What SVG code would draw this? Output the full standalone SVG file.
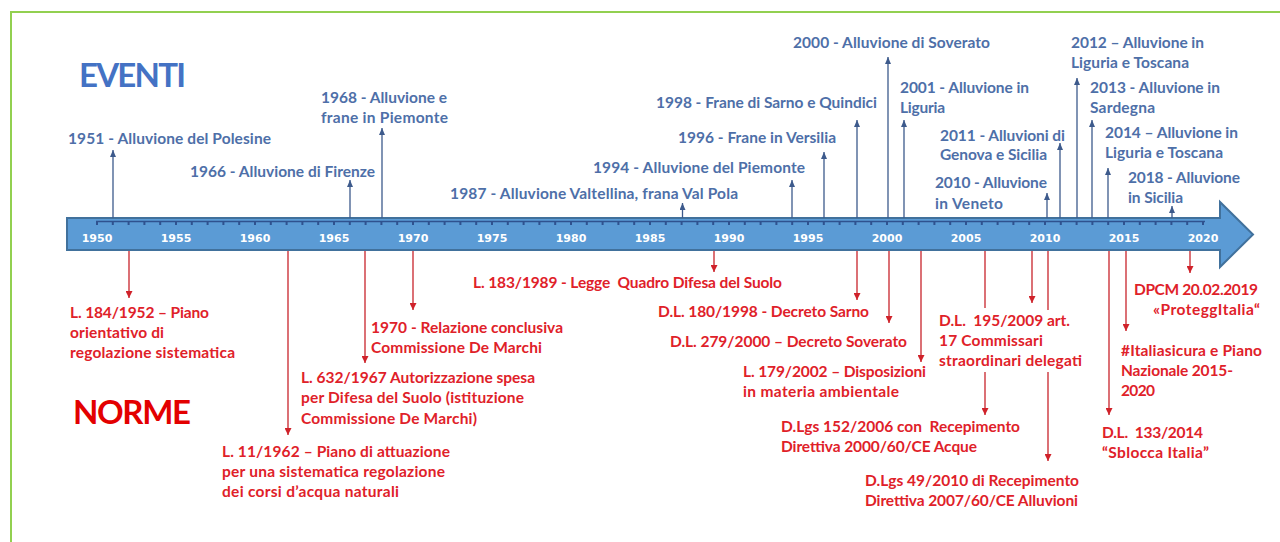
<svg xmlns="http://www.w3.org/2000/svg" width="1280" height="542" viewBox="0 0 1280 542">
<style>
text{font-family:Lato,"Liberation Sans",Arial,sans-serif;font-weight:700}
.ev{fill:#4e6fa8;font-size:15.5px}
.nr{fill:#df2129;font-size:15.5px}
.yr{fill:#ffffff;font-family:"DejaVu Sans",Verdana,sans-serif;font-size:11px;text-anchor:middle}
.title{font-size:33px}
.evl{stroke:#3d5a8c;stroke-width:1.3;fill:none;marker-end:url(#ah-b)}
.nrl{stroke:#c8242c;stroke-width:1.3;fill:none}
.nrl.end{marker-end:url(#ah-r)}
</style>
<defs>
<marker id="ah-b" markerUnits="userSpaceOnUse" viewBox="0 0 7 6" markerWidth="7" markerHeight="6" refX="7" refY="3" orient="auto"><path d="M0,0 L7,3 L0,6 z" fill="#3d5a8c"/></marker>
<marker id="ah-r" markerUnits="userSpaceOnUse" viewBox="0 0 7 7" markerWidth="7" markerHeight="7" refX="7" refY="3.5" orient="auto"><path d="M0,0 L7,3.5 L0,7 z" fill="#d0222a"/></marker>
</defs>
<rect x="0" y="0" width="1280" height="542" fill="#ffffff"/>
<rect x="11" y="12" width="1300" height="600" fill="none" stroke="#92d050" stroke-width="2"/>

<g id="timeline">
<path d="M67,218 H1220 V202 L1253,234.5 L1220,267 V250 H67 Z" fill="#5b9bd5" stroke="#41719c" stroke-width="2" stroke-linejoin="miter"/>
<line x1="96" y1="221.5" x2="1205" y2="221.5" stroke="#2f528f" stroke-width="1.5"/>
<line x1="96" y1="223.5" x2="1205" y2="223.5" stroke="#2f528f" stroke-width="3" stroke-dasharray="2 13.8"/>
<text class="yr" x="97" y="242">1950</text>
<text class="yr" x="176" y="242">1955</text>
<text class="yr" x="255" y="242">1960</text>
<text class="yr" x="334" y="242">1965</text>
<text class="yr" x="413" y="242">1970</text>
<text class="yr" x="492" y="242">1975</text>
<text class="yr" x="571" y="242">1980</text>
<text class="yr" x="650" y="242">1985</text>
<text class="yr" x="729" y="242">1990</text>
<text class="yr" x="808" y="242">1995</text>
<text class="yr" x="887" y="242">2000</text>
<text class="yr" x="966" y="242">2005</text>
<text class="yr" x="1045" y="242">2010</text>
<text class="yr" x="1124" y="242">2015</text>
<text class="yr" x="1203" y="242">2020</text>
</g>

<g id="title-eventi"><text class="title" x="79" y="87" fill="#4472c4" textLength="107">EVENTI</text></g>
<g id="title-norme"><text class="title" x="73" y="424" fill="#e30000" textLength="118">NORME</text></g>

<g id="connectors">
<path class="evl" d="M113,218 V150"/>
<path class="evl" d="M350,218 V180"/>
<path class="evl" d="M382,218 V128"/>
<path class="evl" d="M682.5,218 V203"/>
<path class="evl" d="M792,218 V180"/>
<path class="evl" d="M824,218 V152"/>
<path class="evl" d="M857,218 V120"/>
<path class="evl" d="M888,218 V57"/>
<path class="evl" d="M904,218 V120"/>
<path class="evl" d="M1047,218 V193"/>
<path class="evl" d="M1060,218 V143"/>
<path class="evl" d="M1077,218 V78"/>
<path class="evl" d="M1092,218 V120"/>
<path class="evl" d="M1108,218 V168"/>
<path class="evl" d="M1172,218 V206"/>

<path class="nrl end" d="M129,251 V298"/>
<path class="nrl end" d="M288,251 V435"/>
<path class="nrl end" d="M365,251 V363"/>
<path class="nrl end" d="M413,251 V310"/>
<path class="nrl end" d="M714,251 V272"/>
<path class="nrl end" d="M857,251 V300"/>
<path class="nrl end" d="M889,251 V323"/>
<path class="nrl end" d="M921,251 V362"/>
<path class="nrl" d="M985,251 V308"/>
<path class="nrl end" d="M985,372 V415"/>
<path class="nrl end" d="M1032,251 V303"/>
<path class="nrl" d="M1048,251 V310"/>
<path class="nrl end" d="M1048,372 V461"/>
<path class="nrl end" d="M1109,251 V415"/>
<path class="nrl end" d="M1126,251 V331"/>
<path class="nrl end" d="M1190,251 V273"/>
</g>

<g id="ev-1951"><text class="ev" x="68" y="144" textLength="203">1951 - Alluvione del Polesine</text></g>
<g id="ev-1966"><text class="ev" x="190" y="176.5" textLength="185">1966 - Alluvione di Firenze</text></g>
<g id="ev-1968"><text class="ev" x="321" y="102.5" textLength="126">1968 - Alluvione e</text><text class="ev" x="321" y="122.5" textLength="127">frane in Piemonte</text></g>
<g id="ev-1987"><text class="ev" x="450" y="199" textLength="288">1987 - Alluvione Valtellina, frana Val Pola</text></g>
<g id="ev-1994"><text class="ev" x="593" y="172.5" textLength="212">1994 - Alluvione del Piemonte</text></g>
<g id="ev-1996"><text class="ev" x="678" y="142.5" textLength="158">1996 - Frane in Versilia</text></g>
<g id="ev-1998"><text class="ev" x="656" y="107.5" textLength="221">1998 - Frane di Sarno e Quindici</text></g>
<g id="ev-2000"><text class="ev" x="793" y="48" textLength="197">2000 - Alluvione di Soverato</text></g>
<g id="ev-2001"><text class="ev" x="900" y="93" textLength="129">2001 - Alluvione in</text><text class="ev" x="900" y="113" textLength="45">Liguria</text></g>
<g id="ev-2010"><text class="ev" x="935" y="188" textLength="112">2010 - Alluvione</text><text class="ev" x="935" y="208.5" textLength="68">in Veneto</text></g>
<g id="ev-2011"><text class="ev" x="940" y="140.5" textLength="125">2011 - Alluvioni di</text><text class="ev" x="940" y="160" textLength="107">Genova e Sicilia</text></g>
<g id="ev-2012"><text class="ev" x="1071" y="48" textLength="133">2012 – Alluvione in</text><text class="ev" x="1071" y="68" textLength="118">Liguria e Toscana</text></g>
<g id="ev-2013"><text class="ev" x="1090" y="92.5" textLength="130">2013 - Alluvione in</text><text class="ev" x="1090" y="112.5" textLength="65">Sardegna</text></g>
<g id="ev-2014"><text class="ev" x="1105" y="138.3" textLength="133">2014 – Alluvione in</text><text class="ev" x="1105" y="158.3" textLength="118">Liguria e Toscana</text></g>
<g id="ev-2018"><text class="ev" x="1128" y="183" textLength="112">2018 - Alluvione</text><text class="ev" x="1128" y="203.3" textLength="55">in Sicilia</text></g>

<g id="nr-1952"><text class="nr" x="70" y="318" textLength="139">L. 184/1952 – Piano</text><text class="nr" x="70" y="338" textLength="94">orientativo di</text><text class="nr" x="70" y="358" textLength="165">regolazione sistematica</text></g>
<g id="nr-1962"><text class="nr" x="222" y="457" textLength="228">L. 11/1962 – Piano di attuazione</text><text class="nr" x="222" y="477" textLength="223">per una sistematica regolazione</text><text class="nr" x="222" y="497" textLength="177">dei corsi d’acqua naturali</text></g>
<g id="nr-1967"><text class="nr" x="301" y="383" textLength="234">L. 632/1967 Autorizzazione spesa</text><text class="nr" x="301" y="403" textLength="223">per Difesa del Suolo (istituzione</text><text class="nr" x="301" y="424" textLength="176">Commissione De Marchi)</text></g>
<g id="nr-1970"><text class="nr" x="371" y="332.5" textLength="192">1970 - Relazione conclusiva</text><text class="nr" x="371" y="352.5" textLength="171">Commissione De Marchi</text></g>
<g id="nr-1989"><text class="nr" x="473" y="287.5" textLength="309" xml:space="preserve">L. 183/1989 - Legge  Quadro Difesa del Suolo</text></g>
<g id="nr-1998"><text class="nr" x="658" y="316.5" textLength="211">D.L. 180/1998 - Decreto Sarno</text></g>
<g id="nr-2000"><text class="nr" x="670" y="346.5" textLength="237">D.L. 279/2000 – Decreto Soverato</text></g>
<g id="nr-2002"><text class="nr" x="743" y="377" textLength="183">L. 179/2002 – Disposizioni</text><text class="nr" x="743" y="397" textLength="156">in materia ambientale</text></g>
<g id="nr-2006"><text class="nr" x="781" y="431.5" textLength="239" xml:space="preserve">D.Lgs 152/2006 con  Recepimento</text><text class="nr" x="781" y="451.5" textLength="196">Direttiva 2000/60/CE Acque</text></g>
<g id="nr-2009"><text class="nr" x="939" y="326" textLength="131" xml:space="preserve">D.L.  195/2009 art.</text><text class="nr" x="939" y="346" textLength="104">17 Commissari</text><text class="nr" x="939" y="366" textLength="143">straordinari delegati</text></g>
<g id="nr-2010"><text class="nr" x="865" y="486" textLength="214">D.Lgs 49/2010 di Recepimento</text><text class="nr" x="865" y="506" textLength="213">Direttiva 2007/60/CE Alluvioni</text></g>
<g id="nr-2014"><text class="nr" x="1102" y="438" textLength="101" xml:space="preserve">D.L.  133/2014</text><text class="nr" x="1102" y="458" textLength="107">“Sblocca Italia”</text></g>
<g id="nr-2015"><text class="nr" x="1121" y="356" textLength="141">#Italiasicura e Piano</text><text class="nr" x="1121" y="376" textLength="112">Nazionale 2015-</text><text class="nr" x="1121" y="396" textLength="34">2020</text></g>
<g id="nr-2019"><text class="nr" x="1134" y="294.5" textLength="124">DPCM 20.02.2019</text><text class="nr" x="1153" y="314.5" textLength="107">«ProteggItalia“</text></g>
</svg>
